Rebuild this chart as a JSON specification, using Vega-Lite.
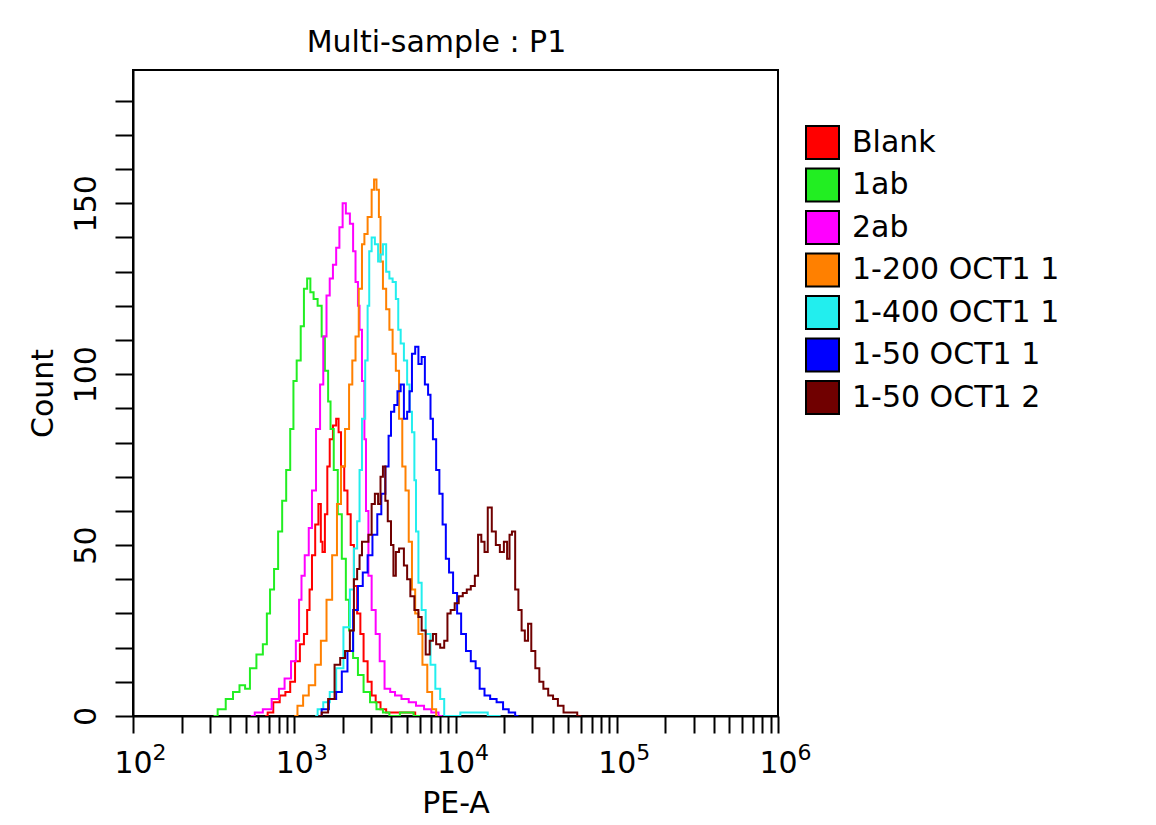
{
  "$schema": "https://vega.github.io/schema/vega-lite/v6.json",
  "autosize": {"type": "none"},
  "padding": {"left": 133, "top": 70, "right": 378, "bottom": 109},
  "width": 645,
  "height": 646,
  "background": "white",
  "config": {
    "font": "DejaVu Sans",
    "view": {"stroke": "black", "strokeWidth": 2}
  },
  "title": {"text": "Multi-sample : P1", "fontSize": 30, "fontWeight": "normal", "color": "black", "baseline": "bottom", "offset": 11, "dx": -19, "dy": 29},
  "data": {"values": [
    {"s":"Blank","x":661,"c":0},{"s":"Blank","x":708,"c":1},{"s":"Blank","x":776,"c":4},{"s":"Blank","x":851,"c":6},{"s":"Blank","x":912,"c":7},{"s":"Blank","x":977,"c":10},{"s":"Blank","x":1047,"c":16},{"s":"Blank","x":1122,"c":21},{"s":"Blank","x":1175,"c":24},{"s":"Blank","x":1230,"c":31},{"s":"Blank","x":1259,"c":37},{"s":"Blank","x":1318,"c":47},{"s":"Blank","x":1380,"c":56},{"s":"Blank","x":1445,"c":62},{"s":"Blank","x":1479,"c":51},{"s":"Blank","x":1514,"c":48},{"s":"Blank","x":1585,"c":59},{"s":"Blank","x":1622,"c":73},{"s":"Blank","x":1698,"c":81},{"s":"Blank","x":1778,"c":85},{"s":"Blank","x":1862,"c":87},{"s":"Blank","x":1905,"c":83},{"s":"Blank","x":1995,"c":73},{"s":"Blank","x":2089,"c":66},{"s":"Blank","x":2188,"c":59},{"s":"Blank","x":2291,"c":50},{"s":"Blank","x":2399,"c":38},{"s":"Blank","x":2512,"c":30},{"s":"Blank","x":2630,"c":24},{"s":"Blank","x":2754,"c":16},{"s":"Blank","x":2951,"c":10},{"s":"Blank","x":3090,"c":6},{"s":"Blank","x":3311,"c":4},{"s":"Blank","x":3548,"c":2},{"s":"Blank","x":3890,"c":1},{"s":"Blank","x":4571,"c":1},{"s":"Blank","x":5248,"c":1},{"s":"Blank","x":6026,"c":0},
    {"s":"1ab","x":316,"c":0},{"s":"1ab","x":355,"c":2},{"s":"1ab","x":398,"c":5},{"s":"1ab","x":437,"c":7},{"s":"1ab","x":479,"c":9},{"s":"1ab","x":513,"c":8},{"s":"1ab","x":550,"c":14},{"s":"1ab","x":617,"c":18},{"s":"1ab","x":661,"c":21},{"s":"1ab","x":692,"c":30},{"s":"1ab","x":724,"c":37},{"s":"1ab","x":776,"c":43},{"s":"1ab","x":813,"c":54},{"s":"1ab","x":871,"c":63},{"s":"1ab","x":912,"c":72},{"s":"1ab","x":977,"c":84},{"s":"1ab","x":1000,"c":98},{"s":"1ab","x":1072,"c":104},{"s":"1ab","x":1122,"c":114},{"s":"1ab","x":1175,"c":125},{"s":"1ab","x":1230,"c":128},{"s":"1ab","x":1288,"c":124},{"s":"1ab","x":1349,"c":122},{"s":"1ab","x":1445,"c":120},{"s":"1ab","x":1514,"c":111},{"s":"1ab","x":1585,"c":101},{"s":"1ab","x":1660,"c":92},{"s":"1ab","x":1698,"c":84},{"s":"1ab","x":1820,"c":72},{"s":"1ab","x":1905,"c":59},{"s":"1ab","x":2042,"c":46},{"s":"1ab","x":2138,"c":34},{"s":"1ab","x":2239,"c":25},{"s":"1ab","x":2399,"c":17},{"s":"1ab","x":2570,"c":12},{"s":"1ab","x":2818,"c":7},{"s":"1ab","x":3090,"c":4},{"s":"1ab","x":3388,"c":2},{"s":"1ab","x":3715,"c":1},{"s":"1ab","x":4074,"c":0},{"s":"1ab","x":5012,"c":1},{"s":"1ab","x":6026,"c":0},
    {"s":"2ab","x":537,"c":0},{"s":"2ab","x":603,"c":1},{"s":"2ab","x":676,"c":2},{"s":"2ab","x":776,"c":5},{"s":"2ab","x":832,"c":8},{"s":"2ab","x":912,"c":11},{"s":"2ab","x":1000,"c":16},{"s":"2ab","x":1047,"c":22},{"s":"2ab","x":1096,"c":34},{"s":"2ab","x":1122,"c":41},{"s":"2ab","x":1202,"c":47},{"s":"2ab","x":1259,"c":55},{"s":"2ab","x":1318,"c":66},{"s":"2ab","x":1413,"c":84},{"s":"2ab","x":1479,"c":97},{"s":"2ab","x":1549,"c":111},{"s":"2ab","x":1622,"c":123},{"s":"2ab","x":1698,"c":128},{"s":"2ab","x":1778,"c":132},{"s":"2ab","x":1862,"c":137},{"s":"2ab","x":1950,"c":143},{"s":"2ab","x":2042,"c":150},{"s":"2ab","x":2138,"c":147},{"s":"2ab","x":2291,"c":144},{"s":"2ab","x":2344,"c":136},{"s":"2ab","x":2455,"c":127},{"s":"2ab","x":2512,"c":120},{"s":"2ab","x":2570,"c":113},{"s":"2ab","x":2692,"c":98},{"s":"2ab","x":2754,"c":81},{"s":"2ab","x":2818,"c":60},{"s":"2ab","x":2951,"c":41},{"s":"2ab","x":3090,"c":31},{"s":"2ab","x":3311,"c":24},{"s":"2ab","x":3467,"c":16},{"s":"2ab","x":3802,"c":8},{"s":"2ab","x":4074,"c":7},{"s":"2ab","x":4365,"c":6},{"s":"2ab","x":4898,"c":5},{"s":"2ab","x":5370,"c":4},{"s":"2ab","x":6026,"c":3},{"s":"2ab","x":6761,"c":2},{"s":"2ab","x":7413,"c":1},{"s":"2ab","x":8318,"c":0},
    {"s":"1-200 OCT1 1","x":1000,"c":0},{"s":"1-200 OCT1 1","x":1096,"c":3},{"s":"1-200 OCT1 1","x":1175,"c":6},{"s":"1-200 OCT1 1","x":1288,"c":9},{"s":"1-200 OCT1 1","x":1413,"c":15},{"s":"1-200 OCT1 1","x":1514,"c":22},{"s":"1-200 OCT1 1","x":1660,"c":34},{"s":"1-200 OCT1 1","x":1778,"c":47},{"s":"1-200 OCT1 1","x":1905,"c":62},{"s":"1-200 OCT1 1","x":1995,"c":73},{"s":"1-200 OCT1 1","x":2138,"c":84},{"s":"1-200 OCT1 1","x":2239,"c":97},{"s":"1-200 OCT1 1","x":2344,"c":104},{"s":"1-200 OCT1 1","x":2455,"c":111},{"s":"1-200 OCT1 1","x":2570,"c":125},{"s":"1-200 OCT1 1","x":2692,"c":138},{"s":"1-200 OCT1 1","x":2754,"c":141},{"s":"1-200 OCT1 1","x":2951,"c":146},{"s":"1-200 OCT1 1","x":3090,"c":154},{"s":"1-200 OCT1 1","x":3162,"c":157},{"s":"1-200 OCT1 1","x":3311,"c":154},{"s":"1-200 OCT1 1","x":3388,"c":146},{"s":"1-200 OCT1 1","x":3467,"c":133},{"s":"1-200 OCT1 1","x":3631,"c":125},{"s":"1-200 OCT1 1","x":3802,"c":119},{"s":"1-200 OCT1 1","x":3981,"c":113},{"s":"1-200 OCT1 1","x":4169,"c":106},{"s":"1-200 OCT1 1","x":4365,"c":101},{"s":"1-200 OCT1 1","x":4571,"c":87},{"s":"1-200 OCT1 1","x":4786,"c":73},{"s":"1-200 OCT1 1","x":5012,"c":66},{"s":"1-200 OCT1 1","x":5248,"c":51},{"s":"1-200 OCT1 1","x":5495,"c":37},{"s":"1-200 OCT1 1","x":5754,"c":30},{"s":"1-200 OCT1 1","x":6026,"c":24},{"s":"1-200 OCT1 1","x":6457,"c":15},{"s":"1-200 OCT1 1","x":6918,"c":7},{"s":"1-200 OCT1 1","x":7413,"c":2},{"s":"1-200 OCT1 1","x":7762,"c":0},
    {"s":"1-400 OCT1 1","x":1349,"c":0},{"s":"1-400 OCT1 1","x":1445,"c":2},{"s":"1-400 OCT1 1","x":1585,"c":4},{"s":"1-400 OCT1 1","x":1738,"c":7},{"s":"1-400 OCT1 1","x":1905,"c":14},{"s":"1-400 OCT1 1","x":2138,"c":26},{"s":"1-400 OCT1 1","x":2291,"c":37},{"s":"1-400 OCT1 1","x":2399,"c":49},{"s":"1-400 OCT1 1","x":2512,"c":57},{"s":"1-400 OCT1 1","x":2570,"c":72},{"s":"1-400 OCT1 1","x":2692,"c":87},{"s":"1-400 OCT1 1","x":2818,"c":104},{"s":"1-400 OCT1 1","x":2884,"c":120},{"s":"1-400 OCT1 1","x":2951,"c":136},{"s":"1-400 OCT1 1","x":3090,"c":140},{"s":"1-400 OCT1 1","x":3236,"c":138},{"s":"1-400 OCT1 1","x":3388,"c":133},{"s":"1-400 OCT1 1","x":3467,"c":135},{"s":"1-400 OCT1 1","x":3631,"c":138},{"s":"1-400 OCT1 1","x":3802,"c":130},{"s":"1-400 OCT1 1","x":3981,"c":128},{"s":"1-400 OCT1 1","x":4169,"c":127},{"s":"1-400 OCT1 1","x":4365,"c":122},{"s":"1-400 OCT1 1","x":4467,"c":113},{"s":"1-400 OCT1 1","x":4677,"c":109},{"s":"1-400 OCT1 1","x":4898,"c":104},{"s":"1-400 OCT1 1","x":5129,"c":97},{"s":"1-400 OCT1 1","x":5248,"c":89},{"s":"1-400 OCT1 1","x":5495,"c":83},{"s":"1-400 OCT1 1","x":5623,"c":69},{"s":"1-400 OCT1 1","x":5754,"c":54},{"s":"1-400 OCT1 1","x":6026,"c":39},{"s":"1-400 OCT1 1","x":6310,"c":31},{"s":"1-400 OCT1 1","x":6761,"c":24},{"s":"1-400 OCT1 1","x":7244,"c":15},{"s":"1-400 OCT1 1","x":7762,"c":8},{"s":"1-400 OCT1 1","x":8318,"c":5},{"s":"1-400 OCT1 1","x":8710,"c":0},{"s":"1-400 OCT1 1","x":13180,"c":1},{"s":"1-400 OCT1 1","x":19050,"c":0},
    {"s":"1-50 OCT1 1","x":1413,"c":0},{"s":"1-50 OCT1 1","x":1549,"c":2},{"s":"1-50 OCT1 1","x":1738,"c":5},{"s":"1-50 OCT1 1","x":1905,"c":7},{"s":"1-50 OCT1 1","x":2042,"c":13},{"s":"1-50 OCT1 1","x":2239,"c":19},{"s":"1-50 OCT1 1","x":2399,"c":31},{"s":"1-50 OCT1 1","x":2570,"c":38},{"s":"1-50 OCT1 1","x":2754,"c":42},{"s":"1-50 OCT1 1","x":2951,"c":47},{"s":"1-50 OCT1 1","x":3162,"c":53},{"s":"1-50 OCT1 1","x":3388,"c":59},{"s":"1-50 OCT1 1","x":3548,"c":65},{"s":"1-50 OCT1 1","x":3802,"c":73},{"s":"1-50 OCT1 1","x":3890,"c":82},{"s":"1-50 OCT1 1","x":4074,"c":89},{"s":"1-50 OCT1 1","x":4266,"c":91},{"s":"1-50 OCT1 1","x":4467,"c":95},{"s":"1-50 OCT1 1","x":4677,"c":97},{"s":"1-50 OCT1 1","x":4898,"c":87},{"s":"1-50 OCT1 1","x":5129,"c":89},{"s":"1-50 OCT1 1","x":5248,"c":95},{"s":"1-50 OCT1 1","x":5495,"c":106},{"s":"1-50 OCT1 1","x":5754,"c":108},{"s":"1-50 OCT1 1","x":6026,"c":103},{"s":"1-50 OCT1 1","x":6310,"c":105},{"s":"1-50 OCT1 1","x":6607,"c":97},{"s":"1-50 OCT1 1","x":6918,"c":94},{"s":"1-50 OCT1 1","x":7079,"c":87},{"s":"1-50 OCT1 1","x":7413,"c":81},{"s":"1-50 OCT1 1","x":7762,"c":72},{"s":"1-50 OCT1 1","x":8128,"c":65},{"s":"1-50 OCT1 1","x":8511,"c":56},{"s":"1-50 OCT1 1","x":8913,"c":46},{"s":"1-50 OCT1 1","x":9333,"c":42},{"s":"1-50 OCT1 1","x":10000,"c":36},{"s":"1-50 OCT1 1","x":10470,"c":30},{"s":"1-50 OCT1 1","x":11220,"c":24},{"s":"1-50 OCT1 1","x":12020,"c":19},{"s":"1-50 OCT1 1","x":12880,"c":16},{"s":"1-50 OCT1 1","x":13800,"c":14},{"s":"1-50 OCT1 1","x":14450,"c":8},{"s":"1-50 OCT1 1","x":15850,"c":6},{"s":"1-50 OCT1 1","x":16980,"c":5},{"s":"1-50 OCT1 1","x":19050,"c":4},{"s":"1-50 OCT1 1","x":20420,"c":2},{"s":"1-50 OCT1 1","x":22390,"c":1},{"s":"1-50 OCT1 1","x":24550,"c":0},
    {"s":"1-50 OCT1 2","x":1413,"c":0},{"s":"1-50 OCT1 2","x":1549,"c":1},{"s":"1-50 OCT1 2","x":1698,"c":5},{"s":"1-50 OCT1 2","x":1862,"c":15},{"s":"1-50 OCT1 2","x":1995,"c":17},{"s":"1-50 OCT1 2","x":2138,"c":19},{"s":"1-50 OCT1 2","x":2291,"c":25},{"s":"1-50 OCT1 2","x":2399,"c":40},{"s":"1-50 OCT1 2","x":2512,"c":43},{"s":"1-50 OCT1 2","x":2570,"c":47},{"s":"1-50 OCT1 2","x":2692,"c":51},{"s":"1-50 OCT1 2","x":2818,"c":51},{"s":"1-50 OCT1 2","x":2951,"c":53},{"s":"1-50 OCT1 2","x":3090,"c":62},{"s":"1-50 OCT1 2","x":3236,"c":65},{"s":"1-50 OCT1 2","x":3388,"c":62},{"s":"1-50 OCT1 2","x":3467,"c":70},{"s":"1-50 OCT1 2","x":3631,"c":73},{"s":"1-50 OCT1 2","x":3715,"c":63},{"s":"1-50 OCT1 2","x":3890,"c":57},{"s":"1-50 OCT1 2","x":4074,"c":50},{"s":"1-50 OCT1 2","x":4169,"c":41},{"s":"1-50 OCT1 2","x":4365,"c":48},{"s":"1-50 OCT1 2","x":4571,"c":49},{"s":"1-50 OCT1 2","x":4677,"c":49},{"s":"1-50 OCT1 2","x":4898,"c":44},{"s":"1-50 OCT1 2","x":5129,"c":40},{"s":"1-50 OCT1 2","x":5370,"c":35},{"s":"1-50 OCT1 2","x":5754,"c":31},{"s":"1-50 OCT1 2","x":6026,"c":29},{"s":"1-50 OCT1 2","x":6310,"c":25},{"s":"1-50 OCT1 2","x":6761,"c":18},{"s":"1-50 OCT1 2","x":7079,"c":22},{"s":"1-50 OCT1 2","x":7413,"c":24},{"s":"1-50 OCT1 2","x":7762,"c":21},{"s":"1-50 OCT1 2","x":8318,"c":20},{"s":"1-50 OCT1 2","x":8710,"c":22},{"s":"1-50 OCT1 2","x":9120,"c":30},{"s":"1-50 OCT1 2","x":9550,"c":31},{"s":"1-50 OCT1 2","x":10230,"c":33},{"s":"1-50 OCT1 2","x":10720,"c":35},{"s":"1-50 OCT1 2","x":11480,"c":36},{"s":"1-50 OCT1 2","x":12020,"c":37},{"s":"1-50 OCT1 2","x":12880,"c":38},{"s":"1-50 OCT1 2","x":13490,"c":41},{"s":"1-50 OCT1 2","x":14130,"c":53},{"s":"1-50 OCT1 2","x":14790,"c":51},{"s":"1-50 OCT1 2","x":15490,"c":48},{"s":"1-50 OCT1 2","x":16220,"c":61},{"s":"1-50 OCT1 2","x":17380,"c":54},{"s":"1-50 OCT1 2","x":18200,"c":50},{"s":"1-50 OCT1 2","x":19500,"c":48},{"s":"1-50 OCT1 2","x":20420,"c":51},{"s":"1-50 OCT1 2","x":21380,"c":46},{"s":"1-50 OCT1 2","x":21880,"c":53},{"s":"1-50 OCT1 2","x":22910,"c":54},{"s":"1-50 OCT1 2","x":23990,"c":37},{"s":"1-50 OCT1 2","x":25120,"c":31},{"s":"1-50 OCT1 2","x":26300,"c":25},{"s":"1-50 OCT1 2","x":27540,"c":22},{"s":"1-50 OCT1 2","x":28840,"c":27},{"s":"1-50 OCT1 2","x":30200,"c":19},{"s":"1-50 OCT1 2","x":32360,"c":14},{"s":"1-50 OCT1 2","x":33880,"c":10},{"s":"1-50 OCT1 2","x":36310,"c":8},{"s":"1-50 OCT1 2","x":38900,"c":6},{"s":"1-50 OCT1 2","x":41690,"c":5},{"s":"1-50 OCT1 2","x":44670,"c":3},{"s":"1-50 OCT1 2","x":48980,"c":1},{"s":"1-50 OCT1 2","x":53700,"c":1},{"s":"1-50 OCT1 2","x":60260,"c":0}
  ]},
  "resolve": {"axis": {"x": "independent"}},
  "layer": [
    {
      "mark": {"type": "line", "interpolate": "step", "strokeWidth": 2, "clip": true},
      "encoding": {
        "x": {
          "field": "x", "type": "quantitative",
          "scale": {"type": "log", "domain": [100, 1000000], "nice": false},
          "axis": {
            "orient": "bottom",
            "title": "PE-A", "titleFontSize": 30, "titleFontWeight": "normal", "titleColor": "black", "titlePadding": 10,
            "values": [100,200,300,400,500,600,700,800,900,1000,2000,3000,4000,5000,6000,7000,8000,9000,10000,20000,30000,40000,50000,60000,70000,80000,90000,100000,200000,300000,400000,500000,600000,700000,800000,900000,1000000],
            "labelExpr": "abs(log(datum.value)/LN10 - round(log(datum.value)/LN10)) < 0.001 ? '10' : ''",
            "labelFontSize": 30, "labelColor": "black", "labelPadding": 15, "labelFlush": false, "labelOverlap": false, "labelBaseline": "top", "labelAlign": "center",
            "tickSize": 17, "tickColor": "black", "tickWidth": 2,
            "domainColor": "black", "domainWidth": 2, "grid": false,
            "encode": {"ticks": {"update": {"y2": {"signal": "abs(log(datum.value)/LN10 - round(log(datum.value)/LN10)) < 0.001 ? 17 : 11"}}}}
          }
        },
        "y": {
          "field": "c", "type": "quantitative",
          "scale": {"domain": [0, 189], "nice": false, "zero": true},
          "axis": {
            "title": "Count", "titleFontSize": 30, "titleFontWeight": "normal", "titleColor": "black", "titlePadding": 13,
            "values": [0,10,20,30,40,50,60,70,80,90,100,110,120,130,140,150,160,170,180],
            "labelExpr": "datum.value % 50 == 0 ? datum.label : ''",
            "labelAngle": -90, "labelAlign": "center", "labelBaseline": "bottom",
            "labelFontSize": 30, "labelColor": "black", "labelPadding": 14, "labelOverlap": false,
            "tickSize": 18, "tickColor": "black", "tickWidth": 2,
            "domainColor": "black", "domainWidth": 2, "grid": false,
            "encode": {"ticks": {"update": {"x2": {"signal": "datum.value % 50 == 0 ? -18 : -12"}}}}
          }
        },
        "stroke": {
          "field": "s", "type": "nominal",
          "scale": {
            "domain": ["Blank", "1ab", "2ab", "1-200 OCT1 1", "1-400 OCT1 1", "1-50 OCT1 1", "1-50 OCT1 2", "-"],
            "range": ["#ff0000", "#22ee22", "#ff00ff", "#ff8000", "#22eeee", "#0000ff", "#700000", "#000000"]
          },
          "legend": null
        }
      }
    },
    {
      "mark": {"type": "square", "filled": true, "stroke": "black", "strokeWidth": 2, "size": 0, "opacity": 1},
      "encoding": {
        "x": {
          "field": "x", "type": "quantitative",
          "axis": {
            "orient": "bottom", "title": null, "domain": false,
            "values": [100, 1000, 10000, 100000, 1000000],
            "labelExpr": "'' + round(log(datum.value)/LN10)",
            "labelFontSize": 22, "labelColor": "black", "labelPadding": 9, "labelFlush": false, "labelOverlap": false,
            "labelBaseline": "top", "labelAlign": "left", "labelOffset": 19,
            "tickSize": 17, "tickOpacity": 0, "grid": false
          }
        },
        "color": {
          "field": "s", "type": "nominal",
          "scale": {
            "domain": ["Blank", "1ab", "2ab", "1-200 OCT1 1", "1-400 OCT1 1", "1-50 OCT1 1", "1-50 OCT1 2"],
            "range": ["#ff0000", "#22ee22", "#ff00ff", "#ff8000", "#22eeee", "#0000ff", "#700000"]
          },
          "legend": {
            "title": null, "orient": "none", "legendX": 672, "legendY": 55,
            "symbolType": "square", "symbolSize": 1089, "symbolStrokeWidth": 2, "symbolStrokeColor": "black", "symbolOpacity": 1,
            "labelFontSize": 30, "labelColor": "black", "labelOffset": 12, "labelLimit": 400, "rowPadding": 1.5
          }
        }
      }
    }
  ]
}
